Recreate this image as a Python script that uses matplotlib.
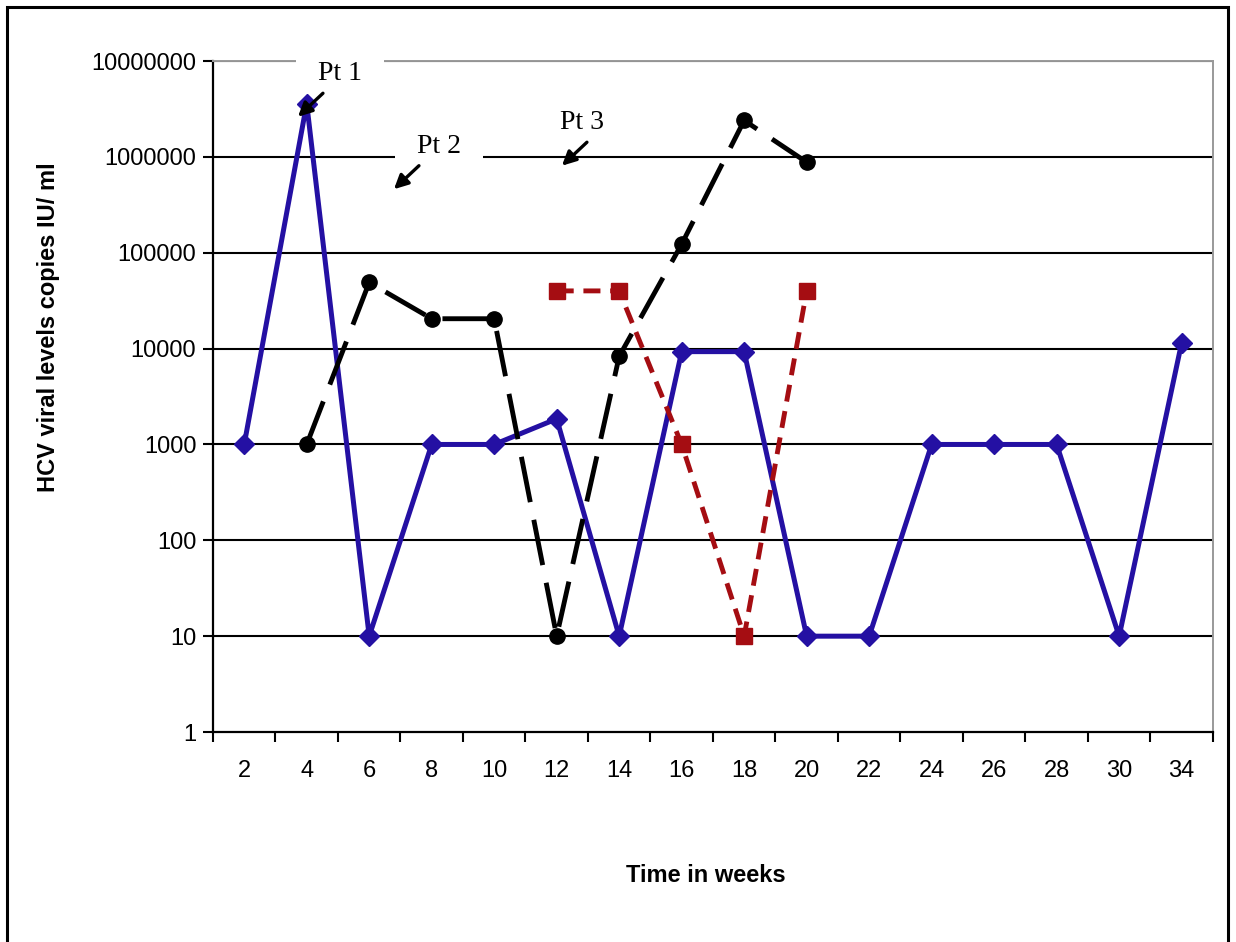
import matplotlib.pyplot as plt
import matplotlib.patches as patches
import numpy as np

plt.rcParams['font.family'] = ['Liberation Sans', 'DejaVu Sans']

weeks = ['2', '4', '6', '8', '10', '12', '14', '16', '18', '20', '22', '24', '26', '28', '30', '34']

# patient 1 (all weeks)
pt1 = [1000, 3600000, 10, 1000, 1000, 1850, 10, 9300, 9300, 10, 10, 1000, 1000, 1000, 10, 11500]
# patient 2 (weeks 4 - 20)
pt2_idx = [1, 2, 3, 4, 5, 6, 7, 8, 9]
pt2 = [1000, 49000, 20500, 20500, 10, 8300, 123000, 2400000, 880000]
# patient 3 (weeks 12 - 20)
pt3_idx = [5, 6, 7, 8, 9]
pt3 = [40000, 40000, 1000, 10, 40000]

blue = '#2410a3'
red = '#a50d12'

fig = plt.figure(figsize=(12.36, 9.42), dpi=100, facecolor='w')
ax = fig.add_axes([0.1723, 0.2229, 0.809, 0.7123])

x = np.arange(len(weeks))
ax.plot(x, pt1, color=blue, lw=3.6, marker='D', ms=10, zorder=3)
ax.plot(pt2_idx, pt2, color='k', lw=3.5, marker='o', ms=11,
        dashes=(9.5, 3.7), zorder=4)
ax.plot(pt3_idx, pt3, color=red, lw=3.5, marker='s', ms=11,
        dashes=(3.5, 2), zorder=5)

ax.set_yscale('log')
ax.set_ylim(1, 1e7)
ax.set_xlim(-0.5, len(weeks) - 0.5)
yt = [10**k for k in range(8)]
ax.set_yticks(yt)
ax.set_yticklabels([str(v) for v in yt])
ax.yaxis.set_minor_locator(plt.NullLocator())
ax.set_xticks(x)
ax.set_xticklabels(weeks)
ax.set_xticks(np.arange(-0.5, len(weeks)), minor=True)
ax.tick_params(axis='x', which='major', length=0, pad=20, labelsize=17)
ax.tick_params(axis='x', which='minor', length=7, width=1.5, direction='out')
ax.tick_params(axis='y', length=7, width=1.5, labelsize=17, pad=5)

for v in yt[1:]:
    ax.axhline(v, color='k', lw=1.5, zorder=1)

ax.spines['left'].set_linewidth(1.6)
ax.spines['bottom'].set_linewidth(1.6)
ax.spines['top'].set_color('#999999')
ax.spines['right'].set_color('#999999')
ax.spines['top'].set_linewidth(1.4)
ax.spines['right'].set_linewidth(1.4)

ax.set_ylabel('HCV viral levels copies IU/ ml', fontsize=17, fontweight='bold')
ax.yaxis.set_label_coords(-0.153, 0.604)
ax.set_xlabel('Time in weeks', fontsize=17, fontweight='bold')
ax.xaxis.set_label_coords(0.493, -0.197)

# patient labels (white boxes break the gridlines) and arrows
labels = ['Pt 1', 'Pt 2', 'Pt 3']
text_pos = [(0.127, 0.981), (0.226, 0.872), (0.369, 0.909)]
tails = [(0.110, 0.952), (0.206, 0.844), (0.374, 0.879)]
tips = [(0.085, 0.917), (0.181, 0.809), (0.349, 0.844)]
boxed = [True, True, False]
for lab, tp, tl, tip, bx in zip(labels, text_pos, tails, tips, boxed):
    ax.text(tp[0], tp[1], lab, transform=ax.transAxes, fontsize=20,
            family='Liberation Serif', ha='center', va='center', zorder=2.7,
            bbox=dict(boxstyle='square,pad=0.8', fc='w', ec='none') if bx else None)
    ax.annotate('', xy=tip, xytext=tl, xycoords='axes fraction',
                textcoords='axes fraction', zorder=6,
                arrowprops=dict(arrowstyle='-|>', color='k', lw=2.4,
                                mutation_scale=21, shrinkA=0, shrinkB=0))

# outer frame
fig.patches.append(patches.Rectangle((0.0057, -0.05), 0.9878, 1.0426, transform=fig.transFigure,
                                     fill=False, ec='k', lw=2.2))

fig.savefig('out.png', dpi=100)
